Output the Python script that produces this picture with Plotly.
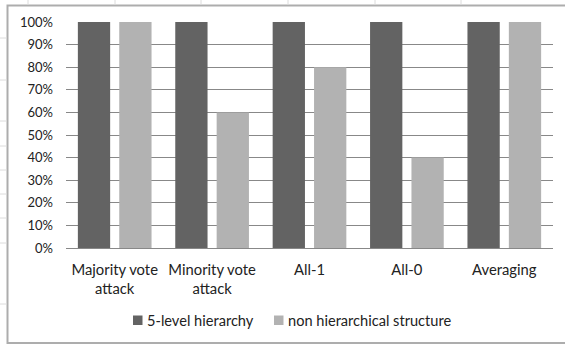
import plotly.graph_objects as go

categories = ["Majority vote<br>attack", "Minority vote<br>attack", "All-1", "All-0", "Averaging"]
series_names = ["5-level hierarchy", "non hierarchical structure"]
series_colors = ["#636363", "#b2b2b2"]
hier_values = [1.0, 1.0, 1.0, 1.0, 1.0]
nonhier_values = [1.0, 0.6, 0.8, 0.4, 1.0]
tick_vals = [i / 10 for i in range(11)]
tick_text = [f"{i*10}%" for i in range(11)]

W, H = 565, 345
L, R, T, B = 66, 12, 22, 97
pw, ph = W - L - R, H - T - B

def px(x):
    return (x - L) / pw

def py(y):
    return (H - B - y) / ph

fig = go.Figure()
fig.add_trace(go.Bar(x=categories, y=hier_values, name=series_names[0],
                     marker=dict(color=series_colors[0], line=dict(width=0))))
fig.add_trace(go.Bar(x=categories, y=nonhier_values, name=series_names[1],
                     marker=dict(color=series_colors[1], line=dict(width=0))))

shapes = []
annotations = []
# chart frame
shapes.append(dict(type="rect", xref="paper", yref="paper",
                   x0=px(7.5), x1=px(600), y0=py(343), y1=py(5.5),
                   line=dict(color="#adadad", width=2), layer="below"))
# faint spreadsheet cell marks
for xv in [28, 115, 201, 288, 375, 461]:
    shapes.append(dict(type="line", xref="paper", yref="paper",
                       x0=px(xv), x1=px(xv), y0=py(0), y1=py(4.5),
                       line=dict(color="#dcdcdc", width=1), layer="below"))
for yv in [38, 80, 121, 146, 170, 194, 218, 243, 304]:
    shapes.append(dict(type="line", xref="paper", yref="paper",
                       x0=px(0), x1=px(6.5), y0=py(yv), y1=py(yv),
                       line=dict(color="#dcdcdc", width=1), layer="below"))

# manual legend (Excel-style compact)
legend_sq_x = [133, 274]
legend_cy = 320
for name, col, sx in zip(series_names, series_colors, legend_sq_x):
    shapes.append(dict(type="rect", xref="paper", yref="paper",
                       x0=px(sx), x1=px(sx + 9.5), y0=py(legend_cy + 5), y1=py(legend_cy - 4.5),
                       fillcolor=col, line=dict(width=0)))
    annotations.append(dict(xref="paper", yref="paper", x=px(sx + 12), y=py(legend_cy),
                            xanchor="left", yanchor="middle", showarrow=False,
                            text=name, font=dict(size=14.6, color="#222222")))

fig.update_layout(
    width=W, height=H,
    margin=dict(l=L, r=R, t=T, b=B),
    paper_bgcolor="white", plot_bgcolor="white",
    barmode="group", bargap=0.15, bargroupgap=0.22,
    font=dict(family="Lato, Calibri, sans-serif", size=13, color="#222222"),
    showlegend=False,
    shapes=shapes,
    annotations=annotations,
)
fig.update_xaxes(showline=True, linecolor="#888888", linewidth=1,
                 ticks="", showgrid=False, tickfont=dict(size=14.8),
                 ticklabelstandoff=8)
fig.update_yaxes(range=[0, 1], tickvals=tick_vals, ticktext=tick_text,
                 showgrid=True, gridcolor="#888888", gridwidth=1,
                 zeroline=False, showline=False, ticks="",
                 ticklabelstandoff=12, tickfont=dict(size=13))

fig.write_html("out.html")
